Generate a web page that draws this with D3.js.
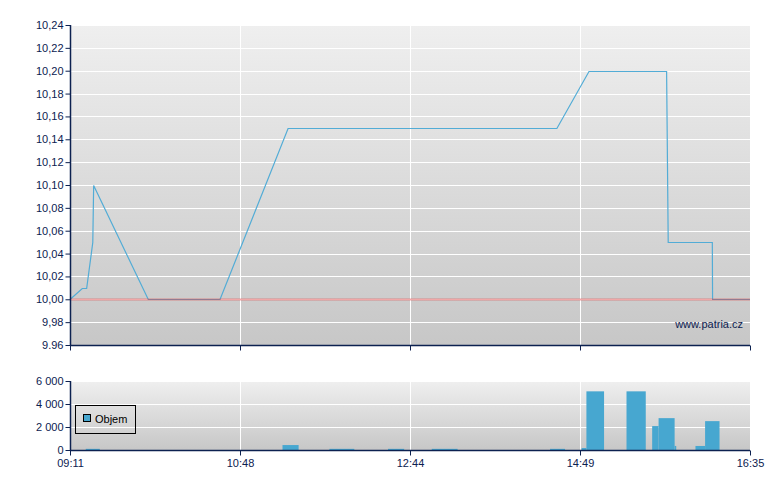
<!DOCTYPE html>
<html><head><meta charset="utf-8">
<script src="https://cdn.jsdelivr.net/npm/d3@7"></script>
<style>body{margin:0;background:#fff}svg{display:block;font-family:"Liberation Sans",Arial,sans-serif}</style>
</head><body><svg id="c" width="780" height="490"></svg>
<script>
// ---- data ----
const xTickLabels = ["09:11","10:48","12:44","14:49","16:35"];
const priceTimes  = ["09:11:00","09:18:00","09:20:30","09:24:00","09:24:30","09:55:40","10:36:36","11:20:48","14:32:00","14:54:36","15:43:00","15:44:00","16:11:30","16:11:40","16:35:00"];
const priceValues = [10.00,10.01,10.01,10.05,10.10,10.00,10.00,10.15,10.15,10.20,10.20,10.05,10.05,10.00,10.00];
const refPrice = 10.00;
const priceTicks = [9.96,9.98,10.00,10.02,10.04,10.06,10.08,10.10,10.12,10.14,10.16,10.18,10.20,10.22,10.24];
const priceTickLabels = ["9.96","9,98","10,00","10,02","10,04","10,06","10,08","10,10","10,12","10,14","10,16","10,18","10,20","10,22","10,24"];
const volStart  = ["09:20","11:17","11:49","12:29","13:00","14:27","14:50","14:53","15:18","15:34","15:38","15:48","16:01","16:07"];
const volEnd    = ["09:28","11:28","12:06","12:40","13:19","14:38","14:53","15:04","15:30","15:38","15:48","15:49","16:07","16:16"];
const volValues = [100,430,100,100,100,100,170,5100,5100,2080,2770,350,350,2510];
const volTicks = [0,2000,4000,6000];
const legendLabel = "Objem";
const watermark = "www.patria.cz";

// ---- helpers ----
const toMin = s => { const p = s.split(":").map(Number); return p[0]*60 + p[1] + (p[2]||0)/60; };
const fmtVol = d => d3.format(",")(d).replace(/,/g, " ");

const svg = d3.select("#c");
const L = 70, R = 750;
const tickMins = xTickLabels.map(toMin);
const x = d3.scaleLinear().domain(tickMins).range(d3.range(5).map(i => L + (R - L) * i / 4));
const y = d3.scaleLinear().domain([9.96, 10.24]).range([345, 25]);
const yv = d3.scaleLinear().domain([0, 6000]).range([450, 381]);

const defs = svg.append("defs");
const g = defs.append("linearGradient").attr("id","bg").attr("x1",0).attr("y1",0).attr("x2",0).attr("y2",1);
g.append("stop").attr("offset","0%").attr("stop-color","#efefef");
g.append("stop").attr("offset","100%").attr("stop-color","#c7c7c7");

const navy = "#0c2150";

// ---- price panel ----
svg.append("rect").attr("x",L).attr("y",25).attr("width",R-L).attr("height",320).attr("fill","url(#bg)");
svg.append("g").selectAll("line").data(priceTicks).join("line")
  .attr("x1",L).attr("x2",R).attr("y1",d=>Math.round(y(d))+0.5).attr("y2",d=>Math.round(y(d))+0.5)
  .attr("stroke","#fff").attr("stroke-width",1);
svg.append("g").selectAll("line").data(tickMins.slice(1,4)).join("line")
  .attr("x1",d=>Math.round(x(d))+0.5).attr("x2",d=>Math.round(x(d))+0.5).attr("y1",25).attr("y2",345)
  .attr("stroke","#fff");

const pts = priceTimes.map((t,i)=>[toMin(t), priceValues[i]]);
svg.append("path").datum(pts)
  .attr("d", d3.line().x(d=>x(d[0])).y(d=>Math.round(y(d[1]))+0.5))
  .attr("fill","none").attr("stroke","#52acd6").attr("stroke-width",1.2);
svg.append("line").attr("x1",L).attr("x2",R).attr("y1",Math.round(y(refPrice))+0.5).attr("y2",Math.round(y(refPrice))+0.5)
  .attr("stroke","#e03c3c").attr("stroke-opacity",0.45).attr("stroke-width",2);

const ya = svg.append("g").attr("transform",`translate(${L+0.5},0)`)
  .call(d3.axisLeft(y).tickValues(priceTicks).tickFormat((d,i)=>priceTickLabels[i]).tickSize(5).tickPadding(2));
const xa = svg.append("g").attr("transform",`translate(0,${345.5})`)
  .call(d3.axisBottom(x).tickValues(tickMins).tickFormat("").tickSize(5));
[ya, xa].forEach(a => {
  a.select(".domain").attr("stroke",navy).attr("stroke-width",1.5);
  a.selectAll(".tick line").attr("stroke",navy);
  a.selectAll("text").attr("fill",navy).style("font-size","11px").style("font-family",'"Liberation Sans",Arial,sans-serif');
});
ya.select(".domain").attr("d","M0,25V345");
xa.select(".domain").attr("d",`M${L},0H${R}`);

svg.append("text").attr("x",743).attr("y",328).attr("text-anchor","end")
  .attr("fill",navy).style("font-size","11px").text(watermark);

// ---- volume panel ----
svg.append("rect").attr("x",L).attr("y",381).attr("width",R-L).attr("height",69).attr("fill","url(#bg)");
svg.append("g").selectAll("line").data(volTicks.slice(1)).join("line")
  .attr("x1",L).attr("x2",R).attr("y1",d=>Math.round(yv(d))+0.5).attr("y2",d=>Math.round(yv(d))+0.5)
  .attr("stroke","#fff");
svg.append("g").selectAll("line").data(tickMins.slice(1,4)).join("line")
  .attr("x1",d=>Math.round(x(d))+0.5).attr("x2",d=>Math.round(x(d))+0.5).attr("y1",381).attr("y2",450)
  .attr("stroke","#fff");
svg.append("g").selectAll("rect").data(volValues).join("rect")
  .attr("x",(d,i)=>x(toMin(volStart[i])))
  .attr("width",(d,i)=>x(toMin(volEnd[i]))-x(toMin(volStart[i])))
  .attr("y",d=>Math.min(yv(d), 449))
  .attr("height",d=>Math.max(450-yv(d),1))
  .attr("fill","#47a7d0");

const yva = svg.append("g").attr("transform",`translate(${L+0.5},0)`)
  .call(d3.axisLeft(yv).tickValues(volTicks).tickFormat(fmtVol).tickSize(5).tickPadding(2));
const xva = svg.append("g").attr("transform",`translate(0,${450.5})`)
  .call(d3.axisBottom(x).tickValues(tickMins).tickFormat((d,i)=>xTickLabels[i]).tickSize(5).tickPadding(4));
[yva, xva].forEach(a => {
  a.select(".domain").attr("stroke",navy).attr("stroke-width",1.5);
  a.selectAll(".tick line").attr("stroke",navy);
  a.selectAll("text").attr("fill",navy).style("font-size","11px").style("font-family",'"Liberation Sans",Arial,sans-serif');
});
yva.select(".domain").attr("d","M0,381V450");
xva.select(".domain").attr("d",`M${L},0H${R}`);

// legend
const lg = svg.append("g");
lg.append("rect").attr("x",75.5).attr("y",405.5).attr("width",60).attr("height",28).attr("fill","none").attr("stroke","#000");
lg.append("rect").attr("x",83.5).attr("y",414.5).attr("width",7).attr("height",7).attr("fill","#47a7d0").attr("stroke","#000");
lg.append("text").attr("x",95).attr("y",423).attr("fill","#000").style("font-size","11px").text(legendLabel);
</script></body></html>
